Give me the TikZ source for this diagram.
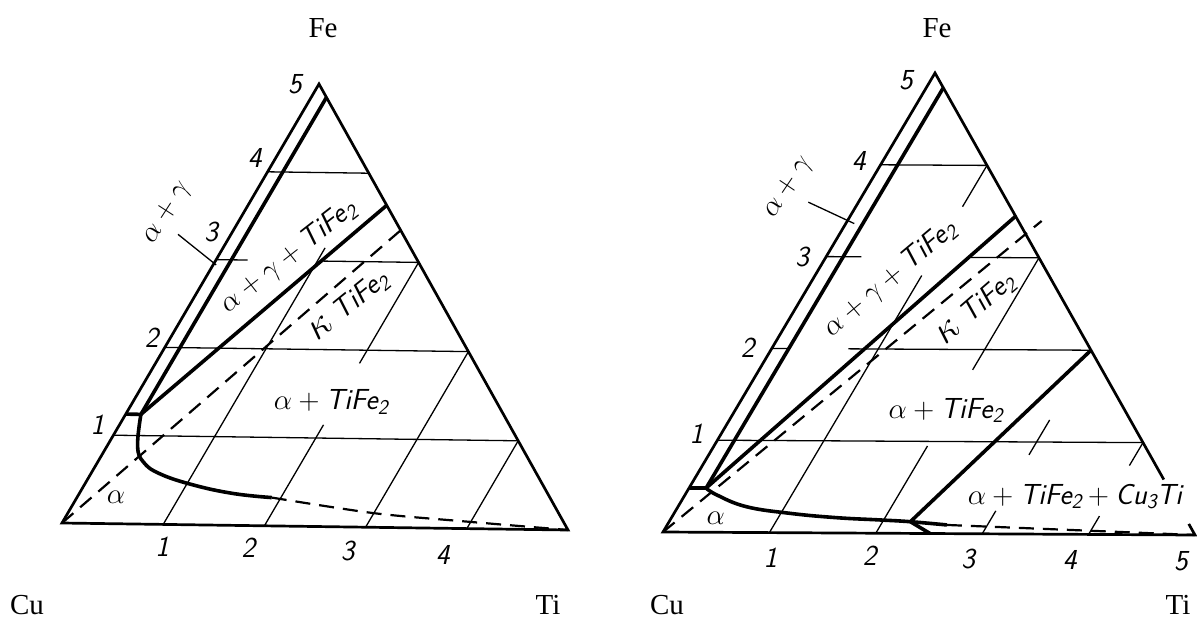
\RequirePackage{fix-cm}
\documentclass[tikz,border=0pt]{standalone}
\usepackage{fontspec}
\newfontfamily\elemfont{Liberation Serif}
\newcommand\idx[1]{\raisebox{-0.35ex}{\fontsize{21}{21}\selectfont #1}}
\newcommand\kap{{\fontsize{40}{40}\selectfont$\kappa$}}
\tikzset{
  sideline/.style={line width=2.7pt},
  gridline/.style={line width=1.3pt},
  bound/.style={line width=3.6pt, line join=round},
  dashbound/.style={line width=2.2pt, dash pattern=on 15pt off 9pt},
  region/.style={font=\sffamily\itshape\fontsize{29}{29}\selectfont, inner sep=0pt},
  axnum/.style={font=\sffamily\itshape\fontsize{29}{29}\selectfont, inner sep=0pt},
  elem/.style={font=\elemfont\fontsize{29}{29}\selectfont, inner sep=0pt}
}
\begin{document}
\begin{tikzpicture}[x=1pt, y=-1pt]
  \useasboundingbox (0,0) rectangle (1197,619);

  % corner names
  \node[elem] (feL) at (323,28) {Fe};
  \node[elem] (cuL) at (27,605) {Cu};
  \node[elem] (tiL) at (548,605) {Ti};
  \node[elem] (feR) at (937,28) {Fe};
  \node[elem] (cuR) at (667,605) {Cu};
  \node[elem] (tiR) at (1178,605) {Ti};

  % left diagram, points given as (Ti, Fe)
  \begin{scope}[shift={(62,523)}, x={(101.2pt,-1.4pt)}, y={(51.4pt,87.8pt)}]
    \coordinate (Lcu) at (0,0);
    \coordinate (Lti) at (5,0);
    \coordinate (Lfe) at (0,5);

    \foreach \k in {1,2,4}
      \draw[gridline] (0,\k) -- ({5-\k},\k);
    \draw[gridline] (0,3) -- (0.31,3) (1.03,3) -- (2,3);
    \draw[gridline] (1,0) -- (1,3.15);
    \draw[gridline] (2,0) -- (2,1.15) (2,1.85) -- (2,3);
    \foreach \k in {3,4}
      \draw[gridline] (\k,0) -- (\k,{5-\k});

    \draw[sideline] (Lcu) -- (Lti) -- (Lfe) -- cycle;

    \foreach \k/\dx/\dy in {1/-16/10, 2/-13/10, 3/-5/28, 4/-13/14, 5/-24/0}
      \node[axnum, xshift=\dx pt, yshift=\dy pt] (Lf\k) at (0,\k) {\k};
    \foreach \k/\dx/\dy in {1/-1/-22, 2/-16/-22, 3/-18/-24, 4/-24/-26}
      \node[axnum, xshift=\dx pt, yshift=\dy pt] (Lt\k) at (\k,0) {\k};

    % phase boundaries
    \coordinate (Lc) at (0.15,1.24);
    \draw[bound] (0,1.24) -- (Lc) -- (0.15,4.85);
    \draw[bound] (Lc) -- (1.36,3.64);
    \draw[dashbound] (Lcu) -- (1.64,3.36);
    \draw[bound] plot[smooth, tension=0.7] coordinates
      {(0.15,1.24) (0.30,0.88) (0.45,0.70) (0.68,0.57) (1.07,0.45) (1.51,0.36) (1.91,0.32)};
    \draw[dashbound] plot[smooth] coordinates {(1.91,0.32) (3,0.16) (3.95,0.08) (5,0)};

    \node[region, rotate=38] (Lagt) at (0.69,3.04) {$\alpha+\gamma+{}$TiFe\idx{2}};
    \node[region, rotate=39] (Lkt) at (1.56,2.50) {\kap\ TiFe\idx{2}};
    \node[region] (Lat) at (1.94,1.41) {$\alpha+{}$TiFe\idx{2}};
    \node[region] (La) at (0.38,0.30) {$\alpha$};
    \node[region, rotate=57] (Lag) at (-0.75,3.52) {$\alpha+\gamma$};
    \coordinate (Lagfrom) at (-0.52,3.28);
    \coordinate (Lagto) at (0.03,2.94);
    \draw[gridline] (Lagfrom) -- (Lagto);
  \end{scope}

  % right diagram, points given as (Ti, Fe)
  \begin{scope}[shift={(663,532)}, x={(106.4pt,-0.6pt)}, y={(54.4pt,91.8pt)}]
    \coordinate (Rcu) at (0,0);
    \coordinate (Rti) at (5,0);
    \coordinate (Rfe) at (0,5);

    \foreach \k in {1,4}
      \draw[gridline] (0,\k) -- ({5-\k},\k);
    \draw[gridline] (0,2) -- (0.16,2) (0.72,2) -- (3,2);
    \draw[gridline] (0,3) -- (0.33,3) (1.36,3) -- (2,3);
    \draw[gridline] (1,0) -- (1,2.8) (1,3.55) -- (1,4);
    \draw[gridline] (2,0) -- (2,0.95) (2,1.78) -- (2,3);
    \draw[gridline] (3,0) -- (3,0.25) (3,0.86) -- (3,1.24);
    \draw[gridline] (4,0) -- (4,0.2) (4,0.75) -- (4,1);

    \draw[sideline] (4.4,0.6) -- (Rfe) -- (Rcu) -- (Rti) -- (4.88,0.12);

    \foreach \k/\dx/\dy in {1/-21/6, 2/-24/1, 3/-24/0, 4/-22/4, 5/-29/-7}
      \node[axnum, xshift=\dx pt, yshift=\dy pt] (Rf\k) at (0,\k) {\k};
    \foreach \k/\dx/\dy in {1/1/-25, 2/-6/-23, 3/-14/-25, 4/-19/-26, 5/-14/-26}
      \node[axnum, xshift=\dx pt, yshift=\dy pt] (Rt\k) at (\k,0) {\k};

    % phase boundaries
    \coordinate (Rc) at (0.16,0.48);
    \coordinate (Rj) at (2.26,0.127);
    \draw[bound] (0,0.48) -- (Rc) -- (0.16,4.84);
    \draw[bound] (Rc) -- (1.55,3.45);
    \draw[dashbound] (Rcu) -- (1.82,3.40);
    \draw[bound] plot[smooth, tension=0.7] coordinates
      {(0.16,0.48) (0.30,0.405) (0.64,0.28) (1.09,0.21) (1.55,0.166) (1.97,0.144) (2.26,0.127) (2.62,0.094)};
    \draw[bound] (Rj) -- (2.51,0);
    \draw[bound] (Rj) -- (3,2);
    \draw[dashbound] (2.62,0.094) -- (Rti);

    \node[region, rotate=40] (Ragt) at (0.72,2.76) {$\alpha+\gamma+{}$TiFe\idx{2}};
    \node[region, rotate=41] (Rkt) at (1.69,2.44) {\kap\ TiFe\idx{2}};
    \node[region] (Rat) at (1.97,1.34) {$\alpha+{}$TiFe\idx{2}};
    \node[region] (Ratc) at (3.66,0.41) {$\alpha+{}$TiFe\idx{2}${}+{}$Cu\idx{3}Ti};
    \node[region] (Ra) at (0.42,0.15) {$\alpha$};
    \node[region, rotate=56] (Rag) at (-0.74,3.75) {$\alpha+\gamma$};
    \coordinate (Ragfrom) at (-0.47,3.59);
    \coordinate (Ragto) at (0.08,3.36);
    \draw[gridline] (Ragfrom) -- (Ragto);
  \end{scope}
\end{tikzpicture}
\end{document}
